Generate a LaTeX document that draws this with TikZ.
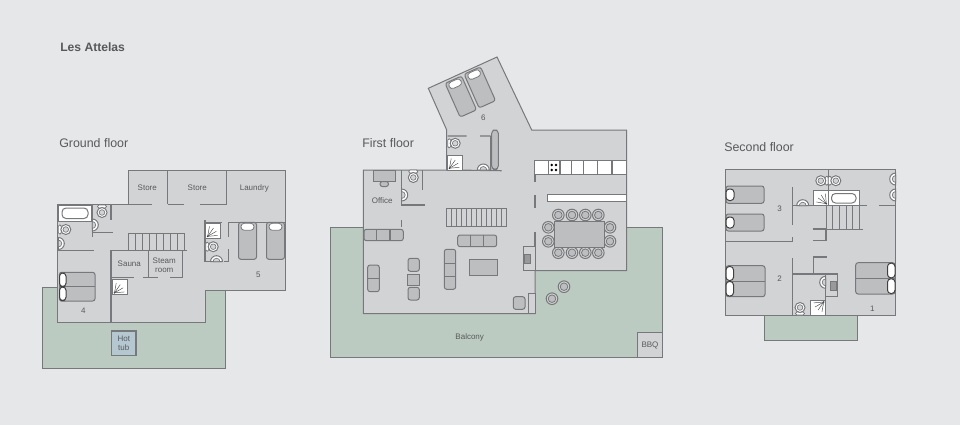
\documentclass[tikz,border=0pt]{standalone}
\usepackage{fontspec}
\setmainfont{Liberation Sans}
\definecolor{pagebg}{HTML}{E6E7E8}
\definecolor{floorfill}{HTML}{D1D3D4}
\definecolor{terracefill}{HTML}{BCCBC1}
\definecolor{wallcol}{HTML}{77787B}
\definecolor{bedfill}{HTML}{BCBEC0}
\definecolor{tubfill}{HTML}{B5C8D2}
\definecolor{labelcol}{HTML}{58595B}
\tikzset{
  floorplate/.style={draw=wallcol, fill=floorfill, line width=0.75pt},
  terrace/.style={draw=wallcol, fill=terracefill, line width=0.75pt},
  wall/.style={draw=wallcol, line width=0.85pt},
  thinline/.style={draw=wallcol, line width=0.5pt},
  furn/.style={draw=wallcol, fill=bedfill, line width=0.75pt},
  softfurn/.style={furn, rounded corners=1.8pt},
  whitefit/.style={draw=wallcol, fill=white, line width=0.6pt},
  pillow/.style={draw=black!75, fill=white, rounded corners=2.5pt, line width=0.75pt},
  roomlabel/.style={text=labelcol, font=\fontsize{6}{6.8}\selectfont, align=center, inner sep=0pt},
  floorlabel/.style={text=labelcol, font=\fontsize{9.3}{11}\selectfont, anchor=west, inner sep=0pt},
  pics/shower/.style={code={
    \draw[whitefit] (-7.5,-7.5) rectangle (7.5,7.5);
    \fill[black!80] (-5.5,5.5) circle[radius=0.9];
    \foreach \a in {5,30,55,80} \draw[black!70, line width=0.35pt] (-5.5,5.5) -- ++({10*cos(\a)},{-10*sin(\a)});
  }},
  pics/toilet/.style={code={
    \draw[whitefit, rounded corners=1pt] (-4.5,0) rectangle (4.5,3);
    \draw[furn, fill=white] (0,7.5) ellipse[x radius=5, y radius=5];
    \draw[thinline, fill=floorfill] (0,7.5) circle[radius=2.8];
  }},
  pics/basin/.style={code={
    \draw[furn, fill=white] (-6,0) arc[start angle=180, end angle=0, radius=6] -- cycle;
    \draw[thinline, fill=floorfill] (-3.5,0) arc[start angle=180, end angle=0, radius=3.5] -- cycle;
  }},
  pics/seat/.style={code={
    \draw[furn, fill=floorfill] (0,0) circle[radius=5.8];
    \draw[furn, line width=0.6pt] (0,0) circle[radius=3.8];
  }},
  pics/bedsingle/.style={code={
    \draw[softfurn] (-9,0) rectangle (9,37);
    \draw[whitefit, rounded corners=2.5pt] (-6.5,1) rectangle (6.5,8);
  }}
}
\begin{document}
\begin{tikzpicture}[x=0.75pt, y=-0.75pt]
\useasboundingbox[fill=pagebg] (0,0) rectangle (960,425);
% headings
\node[floorlabel, font=\fontsize{9.1}{11}\bfseries] (title) at (60,47) {Les Attelas};
\node[floorlabel] (groundtitle) at (59,143) {Ground floor};
\node[floorlabel] (firsttitle) at (362,143) {First floor};
\node[floorlabel] (secondtitle) at (724,147) {Second floor};

% ground floor
\draw[terrace] (42.7,287.3) -- (225,287.3) -- (225,368.3) -- (42.7,368.3) -- cycle;
\draw[floorplate] (128.3,170) -- (285,170) -- (285,290.7) -- (205.7,290.7) -- (205.7,322.3) -- (57.7,322.3) -- (57.7,204.3) -- (128.3,204.3) -- cycle;
\draw[wall] (167.7,170) -- (167.7,204.3) (226.7,170) -- (226.7,204.3);
\draw[wall] (128.3,204.3) -- (151.7,204.3) (167.7,204.3) -- (184,204.3) (200,204.3) -- (226.7,204.3);
\draw[wall] (205,220) -- (205,261.7) -- (211,261.7) (224,261.7) -- (228.3,261.7) -- (228.3,249) (228.3,236.7) -- (228.3,222.3);
\draw[wall] (205,222.3) -- (222,222.3) (228.3,222.3) -- (285,222.3);
\draw[wall] (57.7,250.7) -- (94,250.7) (92.3,205) -- (92.3,237) (92.3,232.7) -- (112.7,232.7) (111,205) -- (111,220);
\draw[wall] (111,322.3) -- (111,250.7) -- (187.3,250.7);
\draw[wall] (148.7,250.7) -- (148.7,277.3) (182.7,250.7) -- (182.7,277.3);
\draw[wall] (111,277.3) -- (134.3,277.3) (143.3,277.3) -- (158.3,277.3) (170,277.3) -- (182.7,277.3);
% stairs
\draw[thinline] (128.3,233.3) -- (184,233.3) (128.3,250) -- (184,250);
\foreach \sx in {128.3,135.3,...,185} \draw[thinline] (\sx,233.3) -- (\sx,250);
% ground fittings
\draw[whitefit] (58.3,205) rectangle (91.7,221.7);
\draw[furn, fill=white, rounded corners=3pt] (62,208) rectangle (88,218.5);
\pic at (58.3,229.5) [rotate=90] {toilet};
\pic at (58.3,243.5) [rotate=90] {basin};
\pic at (102,205) {toilet};
\pic at (92.3,225) [rotate=90] {basin};
\pic at (213.2,230.8) {shower};
\pic at (205.7,246.7) [rotate=90] {toilet};
\pic at (216.5,261.7) [rotate=180] {basin};
\pic at (120,287.3) {shower};
\pic at (247.5,222.3) {bedsingle};
\pic at (275.5,222.3) {bedsingle};
\draw[softfurn] (59.3,272.3) rectangle (95,301);
\draw[thinline] (59.3,286.7) -- (95,286.7);
\draw[pillow] (59.5,273) rectangle (66,286.5);
\draw[pillow] (59.5,287) rectangle (66,300.5);
\draw[wall, fill=tubfill] (111.7,331) rectangle (136,355.7);
\node[roomlabel] (store1) at (147.3,188) {Store};
\node[roomlabel] (store2) at (197.3,188) {Store};
\node[roomlabel] (laundry) at (254.3,188) {Laundry};
\node[roomlabel] (sauna) at (129.3,264) {Sauna};
\node[roomlabel] (steam) at (164.3,265.3) {Steam\\room};
\node[roomlabel] (hottub) at (123.8,343.3) {Hot\\tub};
\node[roomlabel] (room5) at (258.3,275) {5};
\node[roomlabel] (room4) at (83.3,310.7) {4};

% first floor
\draw[terrace] (330,227.3) rectangle (662.7,357.3);
\draw[floorplate] (363.3,170) -- (446.7,170) -- (446.7,130) -- (428.3,88.3) -- (497,57) -- (531.7,130) -- (626.7,130) -- (626.7,270.7) -- (535,270.7) -- (535,313.7) -- (363.3,313.7) -- cycle;
\draw[wall] (446.7,170) -- (501.7,170.7) (447.7,136) -- (466.7,136) (480,136) -- (490.7,136) (490.7,136) -- (490.7,170);
\draw[wall] (401.7,170) -- (401.7,205) -- (425,205) (422.3,170) -- (422.3,190) (401.7,220) -- (401.7,227.3);
\draw[wall] (535,170) -- (535,181.7) (535,195) -- (535,207.7) (535,232.3) -- (535,270.7);
% stairs
\draw[thinline] (446.7,208.3) -- (507.3,208.3) (446.7,226.7) -- (507.3,226.7);
\foreach \sx in {446.7,451.7,...,508} \draw[thinline] (\sx,208.3) -- (\sx,226.7);
% bedroom 6
\pic at (453.3,79.7) [rotate=24] {bedsingle};
\pic at (472.3,70.5) [rotate=24] {bedsingle};
\draw[softfurn, rounded corners=2.5pt] (491.7,130) rectangle (498.3,169.3);
\pic at (447.7,143.3) [rotate=90] {toilet};
\pic at (455,162.7) {shower};
\pic at (483.3,170) [rotate=180] {basin};
% office
\draw[furn] (373.3,170) rectangle (395,181);
\draw[softfurn] (380,181.5) rectangle (388.5,186.5);
\pic at (413.3,170) {toilet};
\pic at (401.7,195) [rotate=90] {basin};
% kitchen
\draw[whitefit] (534.3,160.7) rectangle (626.7,174.3);
\foreach \kx in {548.3,560,571.7,583.3,597.3,612} \draw[wall] (\kx,160.7) -- (\kx,174.3);
\foreach \kx in {551.7,556} \foreach \ky in {165,170} \fill[black] (\kx,\ky) circle[radius=1.4];
\draw[whitefit] (547.7,194.7) rectangle (626.7,201.3);
% dining
\foreach \cx in {558.3,572,585.3,598.3} {
  \pic at (\cx,215) {seat};
  \pic at (\cx,252.7) {seat};
}
\foreach \cy in {227.3,241.3} {
  \pic at (548.3,\cy) {seat};
  \pic at (610,\cy) {seat};
}
\draw[furn] (554.3,221) rectangle (604,247.7);
\draw[thinline, fill=floorfill] (523.3,246.7) rectangle (535,270.7);
\draw[furn, fill=black!40] (524.3,254.3) rectangle (530.7,263.3);
% lounge
\draw[softfurn] (364,229.3) rectangle (403.3,240.7);
\draw[wall] (376.7,229.3) -- (376.7,240.7) (390,229.3) -- (390,240.7);
\draw[softfurn] (457.7,235) rectangle (496.7,246.7);
\draw[wall] (470.7,235) -- (470.7,246.7) (483.7,235) -- (483.7,246.7);
\draw[softfurn] (444.3,249.3) rectangle (455.7,289.3);
\draw[wall] (444.3,263.3) -- (455.7,263.3) (444.3,276.3) -- (455.7,276.3);
\draw[furn] (469.3,259.3) rectangle (497.3,275.7);
\draw[softfurn] (367.7,265) rectangle (379.3,291.7);
\draw[wall] (367.7,278.3) -- (379.3,278.3);
\draw[softfurn] (408,258.3) rectangle (419.3,271.3);
\draw[furn] (407.3,274) rectangle (419.3,285);
\draw[softfurn] (408,287.3) rectangle (419.3,300);
\draw[softfurn] (513.3,296.7) rectangle (525,309.3);
\draw[furn, fill=floorfill] (528.3,293.3) rectangle (535,313.3);
\pic at (564,286.7) {seat};
\pic at (552,298.7) {seat};
\draw[floorplate] (637.3,332.7) rectangle (662.7,357.3);
\node[roomlabel] (bbq) at (650,345) {BBQ};
\node[roomlabel] (balcony) at (469.7,337.3) {Balcony};
\node[roomlabel] (office) at (382.3,200.7) {Office};
\node[roomlabel] (room6) at (483.3,117.7) {6};

% second floor
\draw[terrace] (764,315) rectangle (857.7,340);
\draw[floorplate] (725,169.3) rectangle (895.7,315);
\draw[wall] (725,241.7) -- (792.3,241.7) -- (792.3,237.3) (792.3,225) -- (792.3,186.7) (792.3,258.3) -- (792.3,315);
\draw[wall] (792.3,205.7) -- (867,205.7) (879,205.7) -- (895.7,205.7) (828.3,169.3) -- (828.3,205.7);
\draw[wall] (812.7,229) -- (826,229) -- (826,240.3) -- (813,240.3);
\draw[wall] (826.7,257) -- (813.3,257) -- (813.3,274) (792.3,274) -- (837.7,274) (825.7,274) -- (825.7,315);
\draw[thinline] (825.7,274) rectangle (837.7,296.7);
\draw[furn, fill=black!40] (830.7,281) rectangle (836.7,290.7);
% stairs
\draw[thinline] (825,229) -- (863.3,229);
\foreach \sx in {826,832.7,...,864} \draw[thinline] (\sx,205.7) -- (\sx,229);
% second fittings
\pic at (828.3,180.7) [rotate=-90] {toilet};
\pic at (828.3,180.7) [rotate=90] {toilet};
\draw[whitefit] (828.3,190.7) rectangle (859,205.7);
\draw[furn, fill=white, rounded corners=3pt] (831.5,193.5) rectangle (856,203);
\pic at (820.8,198.2) [rotate=90] {shower};
\pic at (802.7,205.7) [rotate=180] {basin};
\pic at (895.7,179) [rotate=-90] {basin};
\pic at (895.7,195) [rotate=-90] {basin};
\pic at (825.7,282.3) [rotate=-90] {basin};
\pic at (818.2,307.5) [rotate=180] {shower};
\pic at (800,315) [rotate=180] {toilet};
\draw[softfurn] (726,186) rectangle (764,203.3);
\draw[softfurn] (726,214) rectangle (764,231);
\draw[pillow] (726,189) rectangle (734,200.5);
\draw[pillow] (726,217) rectangle (734,228);
\draw[softfurn] (726,265.7) rectangle (765,296.7);
\draw[thinline] (726,281) -- (765,281);
\draw[pillow] (726,266.5) rectangle (733.5,280.5);
\draw[pillow] (726,281.5) rectangle (733.5,296);
\draw[softfurn] (855.7,262.7) rectangle (895,294);
\draw[thinline] (855.7,278.3) -- (895,278.3);
\draw[pillow] (887.5,263.2) rectangle (895,277.8);
\draw[pillow] (887.5,278.8) rectangle (895,293.5);
\node[roomlabel] (room3) at (779.7,209) {3};
\node[roomlabel] (room2) at (779.7,279) {2};
\node[roomlabel] (room1) at (872.3,308.3) {1};
\end{tikzpicture}
\end{document}
